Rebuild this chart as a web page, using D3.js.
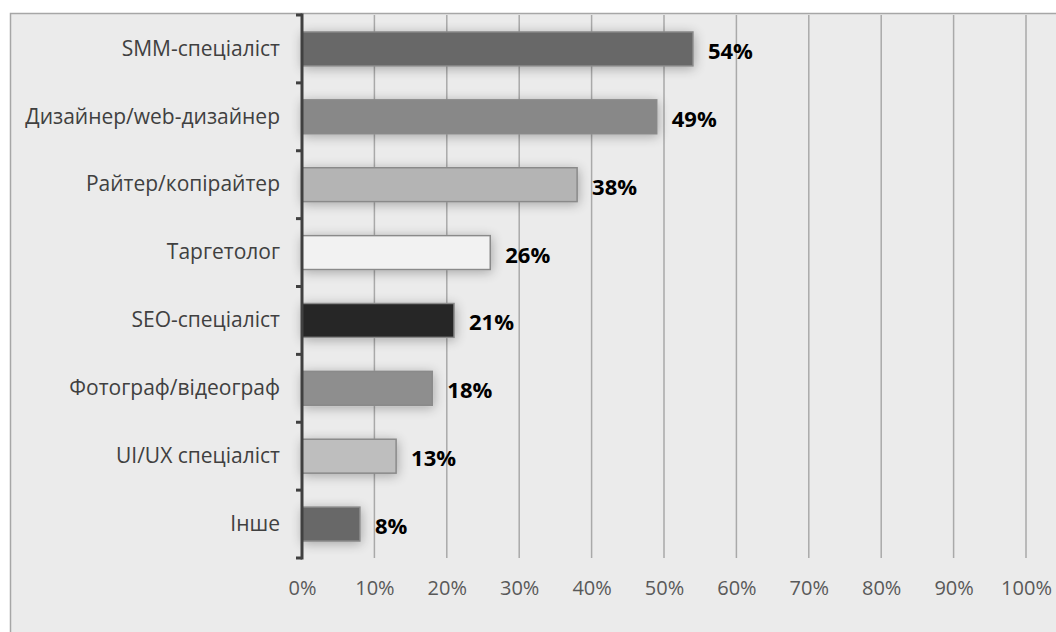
<!DOCTYPE html>
<html>
<head>
<meta charset="utf-8">
<script src="https://cdn.jsdelivr.net/npm/d3@7"></script>
<style>
  html, body { margin: 0; padding: 0; background: #ffffff; }
  svg { display: block; }
</style>
</head>
<body>
<svg id="chart" width="1056" height="632"></svg>
<script>
// Professions and the share of respondents (%)
const categories = [
  "SMM-спеціаліст",
  "Дизайнер/web-дизайнер",
  "Райтер/копірайтер",
  "Таргетолог",
  "SEO-спеціаліст",
  "Фотограф/відеограф",
  "UI/UX спеціаліст",
  "Інше"
];
const values = [54, 49, 38, 26, 21, 18, 13, 8];
const tickValues = [0, 10, 20, 30, 40, 50, 60, 70, 80, 90, 100];
const barColors = ["#676767", "#888888", "#b4b4b4", "#f2f2f2", "#262626", "#8e8e8e", "#bebebe", "#676767"];

const svg = d3.select("#chart");
const W = 1056, H = 632;
const plot = { left: 302, right: 1026, top: 15, bottom: 558 };

// soft shadow around the bars
const defs = svg.append("defs");
const f = defs.append("filter").attr("id", "shadow")
  .attr("x", "-20%").attr("y", "-60%").attr("width", "140%").attr("height", "220%");
f.append("feGaussianBlur").attr("in", "SourceAlpha").attr("stdDeviation", 6).attr("result", "b");
f.append("feOffset").attr("in", "b").attr("dx", 1).attr("dy", 2).attr("result", "o");
f.append("feComponentTransfer").attr("in", "o").attr("result", "s")
  .append("feFuncA").attr("type", "linear").attr("slope", 0.3);
const m = f.append("feMerge");
m.append("feMergeNode").attr("in", "s");
m.append("feMergeNode").attr("in", "SourceGraphic");

// chart area frame
svg.append("rect")
  .attr("x", 10.5).attr("y", 13.5)
  .attr("width", W + 20).attr("height", H + 20)
  .attr("fill", "#ebebeb").attr("stroke", "#a6a6a6").attr("stroke-width", 1.5);

const x = d3.scaleLinear().domain([0, 100]).range([plot.left, plot.right]);
const y = d3.scaleBand().domain(categories).range([plot.top, plot.bottom])
  .paddingInner(0.5).paddingOuter(0.25);

// vertical gridlines
svg.append("g").selectAll("line")
  .data(tickValues.filter(t => t > 0))
  .join("line")
  .attr("x1", d => x(d)).attr("x2", d => x(d))
  .attr("y1", plot.top).attr("y2", plot.bottom)
  .attr("stroke", "#a9a9a9").attr("stroke-width", 1.5);

// x tick labels
const xAxis = d3.axisBottom(x).tickValues(tickValues).tickFormat(d => d + "%").tickSize(0).tickPadding(0);
const gx = svg.append("g").attr("transform", `translate(0, ${plot.bottom + 23})`).call(xAxis);
gx.select(".domain").remove();
gx.selectAll("text")
  .attr("font-family", "'Open Sans', sans-serif")
  .attr("font-size", 20)
  .attr("fill", "#595959");

// bars
svg.append("g").selectAll("rect")
  .data(categories)
  .join("rect")
  .attr("x", x(0))
  .attr("y", d => y(d))
  .attr("width", (d, i) => x(values[i]) - x(0))
  .attr("height", y.bandwidth())
  .attr("fill", (d, i) => barColors[i])
  .attr("stroke", "#8a8a8a")
  .attr("stroke-width", 1.5)
  .attr("filter", "url(#shadow)");

// value labels
svg.append("g").selectAll("text")
  .data(categories)
  .join("text")
  .attr("x", (d, i) => x(values[i]) + 15)
  .attr("y", d => y(d) + y.bandwidth() / 2 + 1)
  .attr("dominant-baseline", "central")
  .attr("font-family", "'Open Sans', sans-serif")
  .attr("font-weight", "bold")
  .attr("font-size", 22)
  .attr("fill", "#000000")
  .text((d, i) => values[i] + "%");

// category axis with outer ticks at band boundaries
const boundaries = d3.range(categories.length + 1).map(i => plot.top + i * y.step());
svg.append("line")
  .attr("x1", plot.left).attr("x2", plot.left)
  .attr("y1", plot.top - 1.5).attr("y2", plot.bottom + 1.5)
  .attr("stroke", "#404040").attr("stroke-width", 3);
svg.append("g").selectAll("line")
  .data(boundaries)
  .join("line")
  .attr("x1", plot.left - 6).attr("x2", plot.left)
  .attr("y1", d => d).attr("y2", d => d)
  .attr("stroke", "#404040").attr("stroke-width", 3);

const yAxis = d3.axisLeft(y).tickSize(0).tickPadding(0);
const gy = svg.append("g").attr("transform", `translate(${plot.left - 22}, 0)`).call(yAxis);
gy.select(".domain").remove();
gy.selectAll("text")
  .attr("font-family", "'Open Sans', sans-serif")
  .attr("font-size", 21)
  .attr("fill", "#404040");
</script>
</body>
</html>
